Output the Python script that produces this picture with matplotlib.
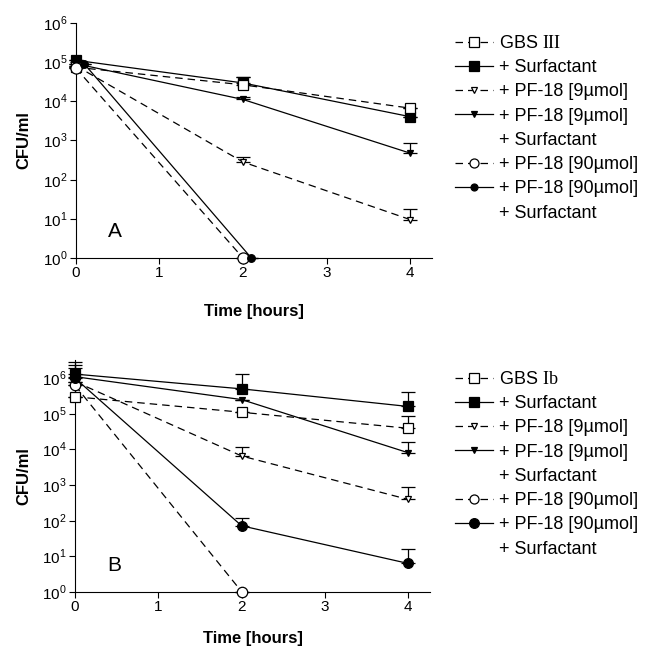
import matplotlib
matplotlib.use('Agg')
import matplotlib.pyplot as plt
from matplotlib.lines import Line2D

plt.rcParams['font.family'] = ['Liberation Sans', 'DejaVu Sans']
plt.rcParams['mathtext.fontset'] = 'custom'
plt.rcParams['mathtext.rm'] = 'Liberation Sans'
plt.rcParams['mathtext.sf'] = 'Liberation Serif'

times = [0, 2, 4]
times_short = [0, 2]

# Panel A - GBS III
a_gbs = [7.3e4, 2.6e4, 6.6e3]
a_gbs_err = [0, 1.6e4, 0]
a_surf = [1.1e5, 2.9e4, 4.0e3]
a_surf_err = [0, 1.3e4, 0]
a_pf9 = [8.0e4, 280, 9.5]
a_pf9_err = [0, 100, 8.5]
a_pf9s = [9.0e4, 1.1e4, 470]
a_pf9s_err = [0, 1500, 400]
a_pf90 = [7.0e4, 1]
a_pf90s_times = [0.1, 2.1]
a_pf90s = [9.0e4, 1]

# Panel B - GBS Ib
b_gbs = [3.0e5, 1.1e5, 3.9e4]
b_gbs_err = [0, 0, 5.0e4]
b_surf = [1.3e6, 5.0e5, 1.6e5]
b_surf_err = [1.6e6, 7.7e5, 2.5e5]
b_pf9 = [8.0e5, 6.5e3, 390]
b_pf9_err = [0, 5.5e3, 510]
b_pf9s = [1.1e6, 2.5e5, 8.0e3]
b_pf9s_err = [1.2e6, 0, 8.0e3]
b_pf90 = [6.3e5, 1]
b_pf90s = [1.0e6, 71, 6.2]
b_pf90s_err = [9.0e5, 50, 10]

x_ticks = [0, 1, 2, 3, 4]
y_exponents = [0, 1, 2, 3, 4, 5, 6]

DASH = (0, (6, 4))
LW = 0.9


def draw_series(ax, t, y, err, ls, marker, face, ms):
    if err is None:
        err = [0] * len(y)
    ax.errorbar(t, y, yerr=[[0] * len(y), err], color='black', linestyle=ls, linewidth=LW,
                marker=marker, markersize=ms, markerfacecolor=face, markeredgecolor='black',
                markeredgewidth=0.9, capsize=5, elinewidth=LW, capthick=LW, clip_on=False, zorder=3)


def setup_axes(ax, ytop, letter, letter_pos, xlabel_pad):
    ax.set_yscale('log')
    ax.set_ylim(1, ytop)
    ax.set_xlim(0, 4.26)
    ax.spines['top'].set_visible(False)
    ax.spines['right'].set_visible(False)
    ax.set_xticks(x_ticks)
    ax.set_xticklabels([str(t) for t in x_ticks], fontsize=11)
    ax.set_yticks([10 ** e for e in y_exponents])
    ax.set_yticklabels(['$10^{%d}$' % e for e in y_exponents], fontsize=11)
    ax.yaxis.set_minor_locator(matplotlib.ticker.NullLocator())
    ax.tick_params(direction='out', length=4, width=0.8, pad=2)
    ax.set_xlabel('Time [hours]', fontsize=12, fontweight='bold', labelpad=xlabel_pad)
    ax.set_ylabel('CFU/ml', fontsize=12, fontweight='bold', labelpad=8)
    ax.text(letter_pos[0], letter_pos[1], letter, fontsize=15, transform=ax.transAxes)


def add_legend(fig, title, anchor, pf90s_ms):
    styles = [
        ('--', 's', 'white', 7, title),
        ('-', 's', 'black', 6.5, '+ Surfactant'),
        ('--', 'v', 'white', 5, '+ PF-18 [9µmol]'),
        ('-', 'v', 'black', 5, '+ PF-18 [9µmol]'),
        (None, None, None, 0, '+ Surfactant'),
        ('--', 'o', 'white', 6.5, '+ PF-18 [90µmol]'),
        ('-', 'o', 'black', pf90s_ms, '+ PF-18 [90µmol]'),
        (None, None, None, 0, '+ Surfactant'),
    ]
    handles = []
    labels = []
    for ls, marker, face, ms, label in styles:
        if ls is None:
            h = Line2D([], [], linestyle='none')
        else:
            h = Line2D([], [], color='black', linestyle=DASH if ls == '--' else '-', linewidth=LW,
                       marker=marker, markersize=ms, markerfacecolor=face,
                       markeredgecolor='black', markeredgewidth=0.9)
        handles.append(h)
        labels.append(label)
    fig.legend(handles, labels, loc='upper left', bbox_to_anchor=anchor, frameon=False,
               fontsize=13, handlelength=2.1, handletextpad=0.35, labelspacing=0.4,
               borderpad=0, borderaxespad=0)


def main():
    fig = plt.figure(figsize=(6.46, 6.49), dpi=100)
    ax_a = fig.add_axes([0.1172, 0.6025, 0.5515, 0.3626])
    ax_b = fig.add_axes([0.1161, 0.0883, 0.5495, 0.357])

    draw_series(ax_a, times, a_surf, a_surf_err, '-', 's', 'black', 7)
    draw_series(ax_a, times, a_gbs, a_gbs_err, DASH, 's', 'white', 7.5)
    draw_series(ax_a, times, a_pf9, a_pf9_err, DASH, 'v', 'white', 5)
    draw_series(ax_a, times, a_pf9s, a_pf9s_err, '-', 'v', 'black', 5)
    draw_series(ax_a, times_short, a_pf90, None, DASH, 'o', 'white', 8)
    draw_series(ax_a, a_pf90s_times, a_pf90s, None, '-', 'o', 'black', 5.5)
    setup_axes(ax_a, 1e6, 'A', (0.09, 0.09), 17)

    draw_series(ax_b, times, b_gbs, b_gbs_err, DASH, 's', 'white', 7.5)
    draw_series(ax_b, times, b_surf, b_surf_err, '-', 's', 'black', 7)
    draw_series(ax_b, times, b_pf9, b_pf9_err, DASH, 'v', 'white', 5)
    draw_series(ax_b, times, b_pf9s, b_pf9s_err, '-', 'v', 'black', 5)
    draw_series(ax_b, times_short, b_pf90, None, DASH, 'o', 'white', 7.5)
    draw_series(ax_b, times, b_pf90s, b_pf90s_err, '-', 'o', 'black', 7)
    setup_axes(ax_b, 10 ** 6.51, 'B', (0.09, 0.09), 12)

    add_legend(fig, r'GBS $\mathsf{III}$', (455 / 646, 1 - 35 / 649), 5)
    add_legend(fig, r'GBS $\mathsf{Ib}$', (455 / 646, 1 - 371 / 649), 7)

    fig.savefig('out.png', dpi=100)


if __name__ == "__main__":
    main()
